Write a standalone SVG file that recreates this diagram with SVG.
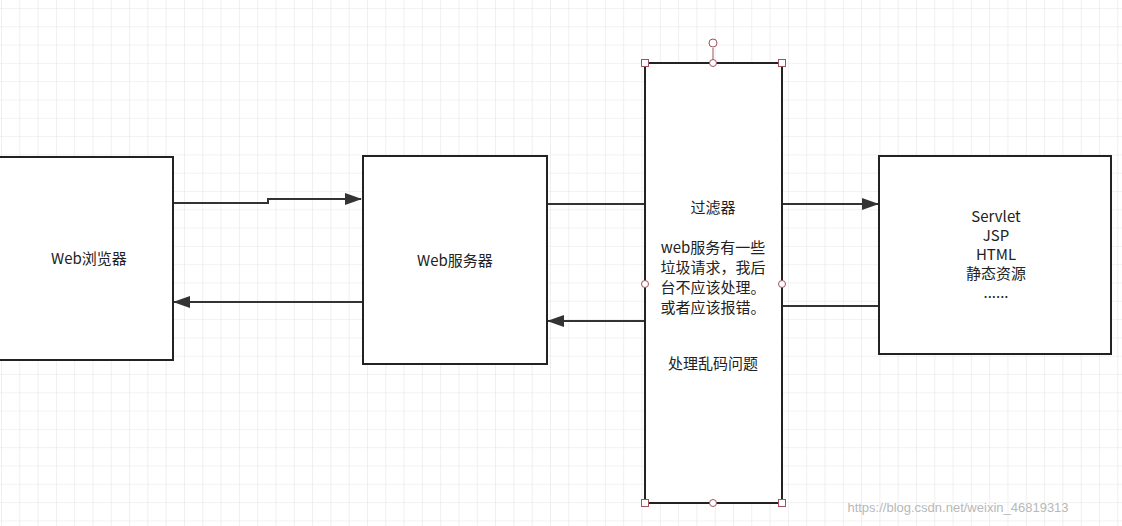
<svg xmlns="http://www.w3.org/2000/svg" width="1122" height="526" viewBox="0 0 1122 526">
<defs>
<pattern id="g" width="18.3" height="18.3" patternUnits="userSpaceOnUse" x="1" y="8"><path d="M0 0H18.3M0 0V18.3" fill="none" stroke="#e6e6e6" stroke-width="1.2"/></pattern>
<marker id="a" markerWidth="17" markerHeight="12" refX="16" refY="6" orient="auto" markerUnits="userSpaceOnUse"><path d="M0 0L17 6L0 12z" fill="#333"/></marker>
<style>
.n{fill:#fff;stroke:#222;stroke-width:2}
.c{fill:none;stroke:#333;stroke-width:2}
text{font-family:"Noto Sans CJK SC","Liberation Sans",sans-serif;font-size:15px;fill:#222;text-anchor:middle}
.h{fill:#fff;stroke:#a0525e;stroke-width:1}
</style>
</defs>
<rect width="1122" height="526" fill="#fff"/>
<rect width="1122" height="526" fill="url(#g)"/>
<g id="connectors">
<path class="c" d="M173 203H268V199H361" marker-end="url(#a)"/>
<path class="c" d="M362 302H174" marker-end="url(#a)"/>
<path class="c" d="M547 204H645"/>
<path class="c" d="M645 321H548" marker-end="url(#a)"/>
<path class="c" d="M782 204H878" marker-end="url(#a)"/>
<path class="c" d="M878 306H782"/>
</g>
<g id="browser"><rect class="n" x="-5" y="157" width="178" height="203"/><text x="89" y="264">Web浏览器</text></g>
<g id="server"><rect class="n" x="363" y="156" width="184" height="208"/><text x="455" y="266">Web服务器</text></g>
<g id="filter"><rect class="n" x="645" y="63" width="137" height="440"/>
<text x="713" y="213">过滤器</text>
<text x="713" y="253">web服务有一些</text>
<text x="713" y="273">垃圾请求，我后</text>
<text x="713" y="293">台不应该处理。</text>
<text x="713" y="313">或者应该报错。</text>
<text x="713" y="369">处理乱码问题</text>
<line x1="713" y1="48" x2="713" y2="63" stroke="#a0525e"/>
<circle class="h" cx="713" cy="43" r="4"/>
<rect class="h" x="641.5" y="59.5" width="7" height="7"/><rect class="h" x="778.5" y="59.5" width="7" height="7"/>
<rect class="h" x="641.5" y="499.5" width="7" height="7"/><rect class="h" x="778.5" y="499.5" width="7" height="7"/>
<circle class="h" cx="713" cy="63" r="3.5"/><circle class="h" cx="713" cy="503" r="3.5"/>
<circle class="h" cx="645" cy="284" r="3.5"/><circle class="h" cx="782" cy="284" r="3.5"/>
</g>
<g id="servlet"><rect class="n" x="879" y="156" width="232" height="198"/>
<text x="996" y="222">Servlet</text><text x="996" y="241">JSP</text><text x="996" y="260">HTML</text><text x="996" y="279">静态资源</text><text x="996" y="298">......</text></g>
<text x="958" y="512" style="font-size:13px;fill:#b8b8b8;font-family:'Liberation Sans',sans-serif">https://blog.csdn.net/weixin_46819313</text>
</svg>
